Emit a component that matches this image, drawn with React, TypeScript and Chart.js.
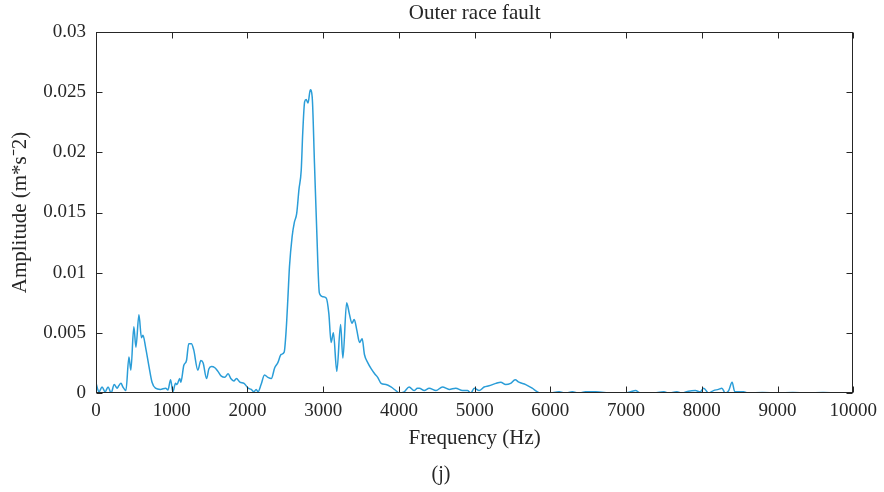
import { useEffect, useRef } from 'react';
import { Chart, registerables } from 'chart.js';

Chart.register(...registerables);

const TITLE = 'Outer race fault';
const X_LABEL = 'Frequency (Hz)';
const Y_LABEL = 'Amplitude (m*s\u207B2)';
const PANEL = '(j)';

const X_TICKS = [0, 1000, 2000, 3000, 4000, 5000, 6000, 7000, 8000, 9000, 10000];
const Y_TICKS = [0, 0.005, 0.01, 0.015, 0.02, 0.025, 0.03];

const FREQ = [
  0, 40, 80, 120, 160, 200, 240, 280, 300, 330, 355, 395, 435, 460, 500, 527, 567, 600, 620, 655,
  700, 740, 785, 850, 920, 950, 985, 1015, 1050, 1070, 1105, 1120, 1160, 1195, 1225, 1260, 1290, 1345, 1385, 1415,
  1460, 1490, 1525, 1570, 1610, 1655, 1700, 1745, 1780, 1820, 1855, 1900, 1955, 2010, 2050, 2085, 2115, 2140, 2180, 2225,
  2270, 2315, 2360, 2400, 2445, 2485, 2510, 2535, 2555, 2590, 2620, 2650, 2680, 2710, 2730, 2755, 2775, 2800, 2830, 2855,
  2885, 2915, 2950, 2995, 3040, 3075, 3105, 3135, 3180, 3230, 3260, 3310, 3345, 3380, 3410, 3445, 3480, 3515, 3545, 3590,
  3635, 3680, 3720, 3765, 3830, 3895, 3960, 4005, 4070, 4135, 4200, 4245, 4270, 4335, 4400, 4490, 4575, 4665, 4750, 4840,
  4905, 4950, 4995, 5060, 5125, 5190, 5280, 5345, 5410, 5475, 5535, 5585, 5675, 5760, 5830, 5870, 5980, 6115, 6200, 6290,
  6375, 6465, 6600, 6815, 6990, 7060, 7125, 7190, 7340, 7500, 7560, 7670, 7740, 7825, 7915, 7980, 8025, 8090, 8155, 8220,
  8265, 8310, 8355, 8400, 8435, 8485, 8550, 8615, 8800, 9000, 9200, 9400, 9600, 9800, 10000,
];

const AMP = [
  0.0008, 0.0001, 0.0005, 0.0001, 0.0005, 0.0, 0.0007, 0.0004, 0.0006, 0.0008, 0.0005, 0.0002, 0.003, 0.0019, 0.0055, 0.0038, 0.0065, 0.0046, 0.0048, 0.0038,
  0.0022, 0.0009, 0.0004, 0.0003, 0.0004, 0.00025, 0.0011, 0.0001, 0.0008, 0.0007, 0.0012, 0.0009, 0.0023, 0.0027, 0.0041, 0.0041, 0.0036, 0.0019, 0.0027, 0.0025,
  0.0012, 0.002, 0.0022, 0.0021, 0.0018, 0.0014, 0.0013, 0.0016, 0.0012, 0.001, 0.0012, 0.0009, 0.0008, 0.0004, 0.0003, 0.0001, 0.0003, 0.0001, 0.0007, 0.0015,
  0.0013, 0.0012, 0.0021, 0.0025, 0.0032, 0.0034, 0.0051, 0.008, 0.0105, 0.013, 0.0142, 0.0149, 0.0169, 0.0185, 0.0216, 0.0242, 0.0244, 0.0241, 0.0252, 0.0246,
  0.0191, 0.0135, 0.0083, 0.008, 0.0079, 0.0066, 0.0042, 0.005, 0.0018, 0.0057, 0.0029, 0.0075, 0.0066, 0.0058, 0.0061, 0.0052, 0.0042, 0.0045, 0.0032, 0.0025,
  0.002, 0.0016, 0.0013, 0.0008, 0.0007, 0.0005, 0.0002, 0.0, 0.0001, 0.0005, 0.0002, 0.0004, 0.0004, 0.0002, 0.0004, 0.0002, 0.0005, 0.0003, 0.0004, 0.0002,
  0.0002, 0.0, 0.0004, 0.0002, 0.0005, 0.0006, 0.0008, 0.0009, 0.0007, 0.0008, 0.0011, 0.0009, 0.0007, 0.0004, 0.0001, 0.0, 0.0, 0.0001, 0.0, 0.0001,
  0.0, 0.0001, 0.0001, 0.0, 0.0, 0.0001, 0.0002, 0.0, 0.0, 0.0001, 0.0, 0.0001, 0.0, 0.00015, 0.0002, 0.0001, 0.0004, 0.0, 0.0002, 0.0003,
  0.0004, 0.0, 0.0002, 0.0009, 0.0001, 0.0001, 0.0001, 0.0, 0.00005, 0.0, 0.00005, 0.0, 0.00005, 0.0, 0.0,
];

const FONT = '"Liberation Serif", "Times New Roman", serif';
const TEXT = '#262626';

export default function App() {
  const ref = useRef<HTMLCanvasElement>(null);

  useEffect(() => {
    document.body.style.margin = '0';
    const canvas = ref.current;
    if (!canvas) return;

    const boxPlugin = {
      id: 'matlabBox',
      afterDraw(chart: any) {
        const { ctx, chartArea: a, scales } = chart;
        const xs = scales.x;
        const ys = scales.y;
        ctx.save();
        ctx.strokeStyle = TEXT;
        ctx.lineWidth = 1;
        const L = Math.round(a.left) + 0.5;
        const R = Math.round(a.right) - 0.5;
        const T = Math.round(a.top) + 0.5;
        const B = Math.round(a.bottom) - 0.5;
        ctx.strokeRect(L, T, R - L, B - T);
        const tl = 6;
        ctx.beginPath();
        X_TICKS.forEach((v) => {
          const px = Math.round(xs.getPixelForValue(v)) + 0.5;
          ctx.moveTo(px, B);
          ctx.lineTo(px, B - tl);
          ctx.moveTo(px, T);
          ctx.lineTo(px, T + tl);
        });
        Y_TICKS.forEach((v) => {
          const py = Math.round(ys.getPixelForValue(v)) + 0.5;
          ctx.moveTo(L, py);
          ctx.lineTo(L + tl, py);
          ctx.moveTo(R, py);
          ctx.lineTo(R - tl, py);
        });
        ctx.stroke();

        ctx.fillStyle = TEXT;
        ctx.textAlign = 'center';
        ctx.textBaseline = 'middle';
        const cx = (a.left + a.right) / 2;
        ctx.font = `21px ${FONT}`;
        ctx.fillText(TITLE, cx, 13);
        ctx.font = `21px ${FONT}`;
        ctx.fillText(X_LABEL, cx, 438);
        ctx.font = `20px ${FONT}`;
        ctx.fillText(PANEL, 441, 475);
        ctx.save();
        ctx.translate(20, (a.top + a.bottom) / 2);
        ctx.rotate(-Math.PI / 2);
        ctx.font = `21px ${FONT}`;
        ctx.fillText(Y_LABEL, 0, 0);
        ctx.restore();
        ctx.restore();
      },
    };

    const chart = new Chart(canvas, {
      type: 'line',
      data: {
        datasets: [
          {
            data: FREQ.map((f, i) => ({ x: f, y: AMP[i] })),
            borderColor: '#2a9dd8',
            borderWidth: 1.5,
            pointRadius: 0,
            fill: false,
            cubicInterpolationMode: 'monotone',
          },
        ],
      },
      options: {
        responsive: false,
        animation: false,
        layout: { padding: { top: 32, right: 29, left: 0, bottom: 0 } },
        plugins: { legend: { display: false }, tooltip: { enabled: false }, title: { display: false } },
        scales: {
          x: {
            type: 'linear',
            min: 0,
            max: 10000,
            afterFit: (s: any) => {
              s.height = 99;
            },
            afterBuildTicks: (s: any) => {
              s.ticks = X_TICKS.map((v) => ({ value: v }));
            },
            grid: { display: false, drawTicks: false },
            border: { display: false },
            ticks: {
              font: { family: FONT, size: 19 },
              color: TEXT,
              padding: 7,
              maxRotation: 0,
              autoSkip: false,
              callback: (v: any) => String(v),
            },
          },
          y: {
            type: 'linear',
            min: 0,
            max: 0.03,
            afterFit: (s: any) => {
              s.width = 96;
            },
            afterBuildTicks: (s: any) => {
              s.ticks = Y_TICKS.map((v) => ({ value: v }));
            },
            grid: { display: false, drawTicks: false },
            border: { display: false },
            ticks: {
              font: { family: FONT, size: 19 },
              color: TEXT,
              padding: 10,
              autoSkip: false,
              callback: (v: any) => String(Number(Number(v).toFixed(4))),
            },
          },
        },
      },
      plugins: [boxPlugin],
    });

    return () => chart.destroy();
  }, []);

  return (
    <div style={{ position: 'absolute', left: 0, top: 0, width: 884, height: 492, background: '#fff' }}>
      <canvas ref={ref} width={884} height={492} style={{ display: 'block', width: 884, height: 492 }} />
    </div>
  );
}
